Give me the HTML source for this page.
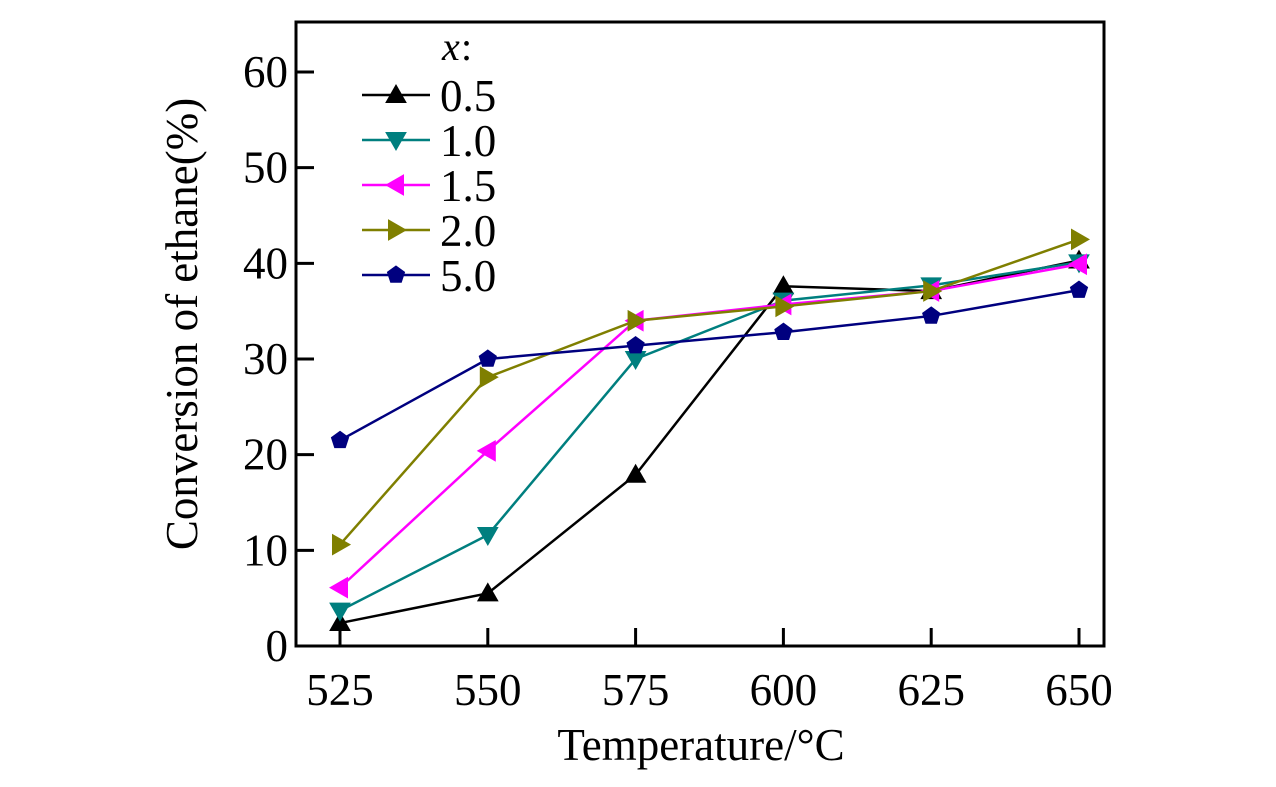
<!DOCTYPE html>
<html><head><meta charset="utf-8"><style>
body{margin:0;background:#fff;}
svg{display:block;font-family:"Liberation Serif",serif;}
</style></head><body>
<svg id="chart" width="1276" height="787"></svg>
<script>
const categories=[525,550,575,600,625,650];
const yTicks=[0,10,20,30,40,50,60];
const seriesNames=["0.5","1.0","1.5","2.0","5.0"];
const s05=[2.4,5.5,17.9,37.6,37.1,40.3];
const s10=[3.7,11.6,30.0,36.1,37.7,40.1];
const s15=[6.1,20.4,34.0,35.7,37.1,39.9];
const s20=[10.6,28.1,34.0,35.5,37.1,42.5];
const s50=[21.5,30.0,31.4,32.8,34.5,37.2];
const allSeries=[s05,s10,s15,s20,s50];
const colors=["#000000","#007f7f","#ff00ff","#7f7f00","#00007f"];
const markers=["up","down","left","right","pent"];
const NS="http://www.w3.org/2000/svg";
const svg=document.getElementById('chart');
const L=296,R=1104,T=22,B=646;
function xs(v){return 340+(v-525)/125*(1079-340);}
function ys(v){return B-v*95.67/10;}
function el(t,a,p){const e=document.createElementNS(NS,t);for(const k in a)e.setAttribute(k,a[k]);(p||svg).appendChild(e);return e;}
function marker(type,x,y,c,g){
  const s=10;let pts;
  if(type==="up")pts=[[x,y-s],[x+s,y+s*0.75],[x-s,y+s*0.75]];
  else if(type==="down")pts=[[x,y+s],[x+s,y-s*0.75],[x-s,y-s*0.75]];
  else if(type==="left")pts=[[x-s,y],[x+s*0.75,y-s],[x+s*0.75,y+s]];
  else if(type==="right")pts=[[x+s,y],[x-s*0.75,y-s],[x-s*0.75,y+s]];
  else {pts=[];for(let i=0;i<5;i++){const a=-Math.PI/2+i*2*Math.PI/5;pts.push([x+9*Math.cos(a),y+9*Math.sin(a)]);}}
  return el('polygon',{points:pts.map(p=>p.join(',')).join(' '),fill:c,stroke:c,'stroke-width':1},g);
}
const frame=el('rect',{x:L,y:T,width:R-L,height:B-T,fill:'none',stroke:'#000','stroke-width':3});


yTicks.forEach(v=>{
  const ln=el('line',{x1:L,x2:L+18,y1:ys(v),y2:ys(v),stroke:'#000','stroke-width':3});
  
  
  const t=el('text',{x:L-8,y:ys(v)+15,'text-anchor':'end','font-size':45});
  t.textContent=v;
  
  
});
categories.forEach(v=>{
  const ln=el('line',{x1:xs(v),x2:xs(v),y1:B,y2:B-18,stroke:'#000','stroke-width':3});
  
  
  const t=el('text',{x:xs(v),y:705,'text-anchor':'middle','font-size':45});
  t.textContent=v;
  
  
});
const xt=el('text',{x:701,y:760,'text-anchor':'middle','font-size':45});
xt.textContent='Temperature/°C';


const yt=el('text',{x:197,y:324,'text-anchor':'middle','font-size':45,transform:'rotate(-90 197 324)'});
yt.textContent='Conversion of ethane(%)';


allSeries.forEach((data,i)=>{
  const g=el('g',{});
  
  
  el('polyline',{points:data.map((v,j)=>xs(categories[j])+','+ys(v)).join(' '),fill:'none',stroke:colors[i],'stroke-width':2.5},g);
  data.forEach((v,j)=>{
    const m=marker(markers[i],xs(categories[j]),ys(v),colors[i],g);
    
    
  });
});
const lg=el('g',{});


const lt=el('text',{x:442,y:60,'font-size':40,'font-style':'italic'},lg);
lt.textContent='x';
const lt2=el('text',{x:461,y:60,'font-size':40},lg);
lt2.textContent=':';
seriesNames.forEach((n,i)=>{
  const y=95+i*45;
  const g=el('g',{},lg);
  
  
  el('line',{x1:362,x2:430,y1:y,y2:y,stroke:colors[i],'stroke-width':2.5},g);
  marker(markers[i],396,y,colors[i],g);
  const t=el('text',{x:440,y:y+16,'font-size':45},g);
  t.textContent=n;
});
</script>
</body></html>
